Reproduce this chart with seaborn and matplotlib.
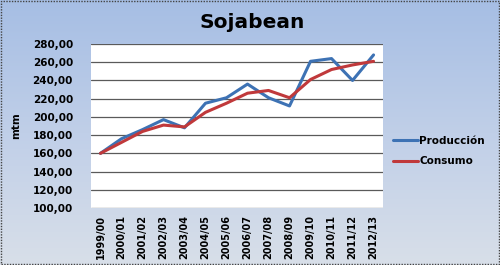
import numpy as np
import pandas as pd
import matplotlib
matplotlib.use("Agg")
import matplotlib.pyplot as plt
import seaborn as sns
from matplotlib.colors import LinearSegmentedColormap
from matplotlib.lines import Line2D

campanas = ["1999/00", "2000/01", "2001/02", "2002/03", "2003/04", "2004/05", "2005/06",
            "2006/07", "2007/08", "2008/09", "2009/10", "2010/11", "2011/12", "2012/13"]
produccion = [160, 176, 186, 197, 188, 215, 221, 236, 221, 212, 261, 264, 240, 268]
consumo = [160, 172, 184, 191, 189, 205, 215, 226, 229, 221, 241, 252, 257, 261]
yticks = [100, 120, 140, 160, 180, 200, 220, 240, 260, 280]
ytick_labels = ["100,00", "120,00", "140,00", "160,00", "180,00", "200,00",
                "220,00", "240,00", "260,00", "280,00"]

df = pd.DataFrame({"Campaña": campanas * 2,
                   "valor": produccion + consumo,
                   "serie": ["Producción"] * len(campanas) + ["Consumo"] * len(campanas)})

sns.set_style("white")
plt.rcParams["font.family"] = ["DejaVu Sans"]
plt.rcParams["text.color"] = "black"
plt.rcParams["xtick.color"] = "black"
plt.rcParams["ytick.color"] = "black"
plt.rcParams["axes.labelcolor"] = "black"

fig = plt.figure(figsize=(5, 2.65), dpi=100)

bg = fig.add_axes([0, 0, 1, 1], zorder=0)
grad = np.linspace(0, 1, 256).reshape(-1, 1)
cmap = LinearSegmentedColormap.from_list("bg", ["#a6bee4", "#c0cfe8", "#d8dfe9"])
bg.imshow(grad, aspect="auto", cmap=cmap, extent=[0, 1, 0, 1], origin="upper")
bg.set_axis_off()
bg.add_patch(plt.Rectangle((0.002, 0.004), 0.996, 0.992, fill=False,
                           edgecolor="#444444", lw=1, ls=(0, (1, 1)), transform=bg.transAxes))

ax = fig.add_axes([91 / 500, 1 - 208 / 265, (383 - 91) / 500, (208 - 44) / 265], zorder=1)
ax.set_facecolor("white")
sns.lineplot(data=df, x="Campaña", y="valor", hue="serie", ax=ax,
             palette={"Producción": "#3d72b4", "Consumo": "#c0393b"},
             linewidth=2.2, legend=False, sort=False)

ax.set_ylim(100, 280)
ax.set_xlim(-0.45, len(campanas) - 0.55)
ax.set_yticks(yticks)
ax.set_yticklabels(ytick_labels, fontsize=7.5, fontweight="bold")
ax.set_xticks(range(len(campanas)))
ax.set_xticklabels(campanas, rotation=90, fontsize=7, fontweight="bold")
ax.tick_params(axis="y", length=0, pad=13)
ax.tick_params(axis="x", length=0, pad=5)
ax.grid(axis="y", color="#5a5a5a", lw=0.9)
ax.set_axisbelow(True)
for s in ax.spines.values():
    s.set_visible(False)
ax.set_xlabel("")
ax.set_ylabel("mtm", fontsize=7.5, fontweight="bold", labelpad=8)

fig.text(252 / 500, 1 - 22 / 265, "Sojabean", ha="center", va="center",
         fontsize=14.5, fontweight="bold")

handles = [Line2D([], [], color="#3d72b4", lw=2.2), Line2D([], [], color="#c0393b", lw=2.2)]
fig.legend(handles, ["Producción", "Consumo"], loc="center left",
           bbox_to_anchor=(384 / 500, 1 - 151 / 265), frameon=False,
           prop={"size": 7.5, "weight": "bold"}, handlelength=2.4, handletextpad=0.1,
           labelspacing=1.0)

fig.savefig("out.png", dpi=100)
